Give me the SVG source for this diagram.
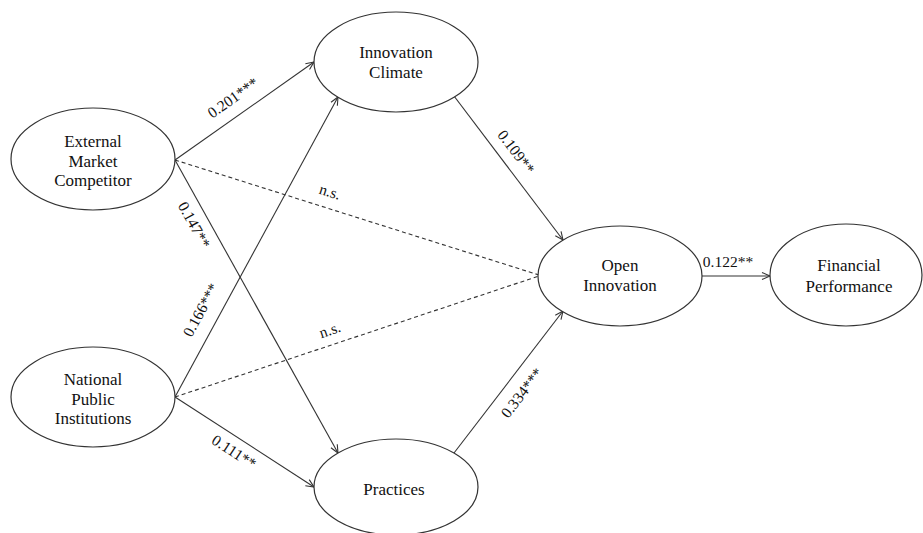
<svg xmlns="http://www.w3.org/2000/svg" width="923" height="533" viewBox="0 0 923 533">
<style>
.node ellipse{fill:#fff;stroke:#333;stroke-width:1.2}
.node text{font-size:17px;fill:#111;text-anchor:middle}
.conn line{stroke:#333;stroke-width:1.1;fill:none}
.conn .solid{marker-end:url(#arr)}
.conn .dash{stroke-dasharray:4 3}
.lbl text{font-size:15.5px;fill:#111;text-anchor:middle}
</style>
<defs>
<marker id="arr" markerUnits="userSpaceOnUse" markerWidth="12" markerHeight="12" viewBox="-10 -6 12 12" refX="0" refY="0" orient="auto">
<path d="M-8,-3.6 L0,0 L-8,3.6" fill="none" stroke="#333" stroke-width="1.1"/>
</marker>
</defs>
<rect width="923" height="533" fill="#fff"/>
<g id="connectors" class="conn">
<line class="solid" x1="175" y1="160" x2="314" y2="62"/>
<line class="dash" x1="175" y1="160" x2="539" y2="275"/>
<line class="solid" x1="175" y1="160" x2="338" y2="453"/>
<line class="solid" x1="175" y1="397" x2="338" y2="97"/>
<line class="dash" x1="175" y1="397" x2="539" y2="276"/>
<line class="solid" x1="175" y1="397" x2="314" y2="487"/>
<line class="solid" x1="454" y1="96" x2="563" y2="240"/>
<line class="solid" x1="454" y1="453" x2="563" y2="311"/>
<line class="solid" x1="702" y1="276" x2="770" y2="276"/>
</g>
<g id="labels" class="lbl" font-family="'Liberation Serif', 'Times New Roman', 'DejaVu Serif', serif">
<text transform="translate(233,98) rotate(-35.2)" y="5">0.201***</text>
<text transform="translate(330,192) rotate(17.7)" y="5">n.s.</text>
<text transform="translate(194,225) rotate(60.9)" y="5">0.147**</text>
<text transform="translate(201,310) rotate(-61.5)" y="5">0.166***</text>
<text transform="translate(330,330) rotate(-18.4)" y="5">n.s.</text>
<text transform="translate(234,452) rotate(32.9)" y="5">0.111**</text>
<text transform="translate(516,152) rotate(53)" y="5">0.109**</text>
<text transform="translate(522,393) rotate(-52.5)" y="5">0.334***</text>
<text x="728" y="267">0.122**</text>
</g>
<g id="emc" class="node" font-family="'Liberation Serif', 'Times New Roman', 'DejaVu Serif', serif">
<ellipse cx="93" cy="159" rx="82" ry="51"/>
<text x="93" y="147">External</text>
<text x="93" y="167">Market</text>
<text x="93" y="186">Competitor</text>
</g>
<g id="npi" class="node" font-family="'Liberation Serif', 'Times New Roman', 'DejaVu Serif', serif">
<ellipse cx="93" cy="397" rx="82" ry="50"/>
<text x="93" y="385">National</text>
<text x="93" y="405">Public</text>
<text x="93" y="424">Institutions</text>
</g>
<g id="ic" class="node" font-family="'Liberation Serif', 'Times New Roman', 'DejaVu Serif', serif">
<ellipse cx="396" cy="62" rx="82" ry="50"/>
<text x="396" y="58">Innovation</text>
<text x="396" y="78">Climate</text>
</g>
<g id="pr" class="node" font-family="'Liberation Serif', 'Times New Roman', 'DejaVu Serif', serif">
<ellipse cx="396" cy="487" rx="82" ry="48"/>
<text x="394" y="495">Practices</text>
</g>
<g id="oi" class="node" font-family="'Liberation Serif', 'Times New Roman', 'DejaVu Serif', serif">
<ellipse cx="620" cy="276" rx="82" ry="50"/>
<text x="620" y="271">Open</text>
<text x="620" y="291">Innovation</text>
</g>
<g id="fp" class="node" font-family="'Liberation Serif', 'Times New Roman', 'DejaVu Serif', serif">
<ellipse cx="846" cy="275" rx="76" ry="51"/>
<text x="849" y="271">Financial</text>
<text x="849" y="292">Performance</text>
</g>
</svg>
